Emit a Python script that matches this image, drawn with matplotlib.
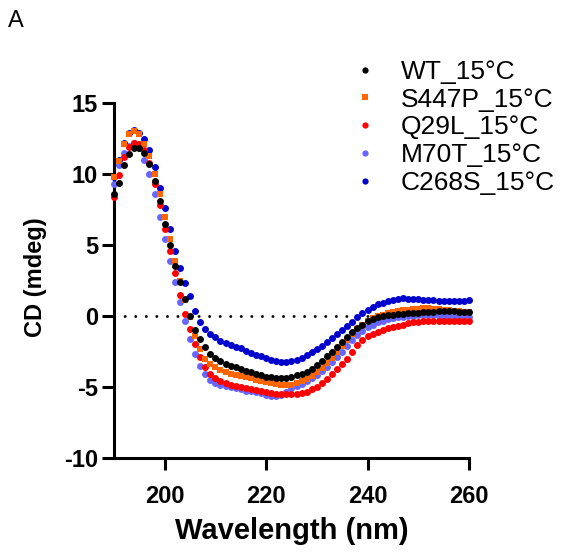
import matplotlib
matplotlib.use("Agg")
import matplotlib.pyplot as plt
import numpy as np

plt.rcParams['font.family'] = ['Liberation Sans', 'DejaVu Sans']

wavelength = list(range(190, 261))

wt = [8.6, 9.4, 10.6, 11.4, 11.8, 11.8, 11.45, 10.7, 9.5, 8.1,
      6.5, 5.0, 3.55, 2.4, 1.2, 0.0, -1.0, -1.6, -2.2, -2.65,
      -2.95, -3.15, -3.35, -3.5, -3.6, -3.72, -3.85, -3.95, -4.05, -4.18,
      -4.27, -4.32, -4.38, -4.4, -4.35, -4.28, -4.18, -4.08, -3.95, -3.7,
      -3.45, -3.15, -2.85, -2.55, -2.2, -1.85, -1.5, -1.15, -0.85, -0.6,
      -0.38, -0.2, -0.1, 0.0, 0.05, 0.1, 0.12, 0.15, 0.18, 0.2,
      0.22, 0.25, 0.28, 0.3, 0.32, 0.32, 0.33, 0.33, 0.3, 0.28, 0.25]

s447p = [9.8, 10.9, 12.1, 12.85, 13.0, 12.85, 12.1, 11.3, 10.0, 8.6,
         7.0, 5.4, 3.85, 2.5, 1.15, -0.1, -1.4, -2.3, -3.0, -3.37,
         -3.62, -3.82, -3.97, -4.05, -4.13, -4.22, -4.3, -4.4, -4.48, -4.56,
         -4.65, -4.72, -4.8, -4.86, -4.88, -4.83, -4.75, -4.6, -4.42, -4.2,
         -3.95, -3.65, -3.3, -2.95, -2.55, -2.1, -1.7, -1.3, -0.95, -0.62,
         -0.35, -0.15, 0.0, 0.1, 0.2, 0.28, 0.35, 0.4, 0.45, 0.5,
         0.52, 0.55, 0.55, 0.52, 0.5, 0.45, 0.4, 0.38, 0.35, 0.3, 0.28]

q29l = [8.4, 9.9, 11.2, 11.9, 12.2, 12.1, 11.7, 10.8, 9.3, 7.8,
        6.1, 4.55, 3.0, 1.5, 0.15, -0.9, -2.0, -2.9, -3.6, -4.1,
        -4.4, -4.6, -4.75, -4.85, -4.95, -5.0, -5.08, -5.15, -5.22, -5.3,
        -5.38, -5.45, -5.48, -5.52, -5.5, -5.48, -5.48, -5.43, -5.32, -5.15,
        -4.97, -4.75, -4.45, -4.1, -3.75, -3.38, -3.0, -2.5, -2.05, -1.7,
        -1.4, -1.25, -1.12, -1.0, -0.88, -0.78, -0.68, -0.6, -0.52, -0.45,
        -0.42, -0.38, -0.35, -0.33, -0.33, -0.33, -0.33, -0.33, -0.33, -0.33, -0.33]

m70t = [9.3, 10.6, 11.5, 12.0, 12.2, 11.8, 11.0, 10.0, 8.6, 7.0,
        5.4, 3.85, 2.4, 1.0, -0.35, -1.6, -2.7, -3.5, -4.07, -4.5,
        -4.75, -4.88, -4.96, -5.02, -5.06, -5.15, -5.25, -5.3, -5.36, -5.45,
        -5.55, -5.62, -5.65, -5.55, -5.35, -5.1, -4.95, -4.8, -4.6, -4.4,
        -4.15, -3.9, -3.6, -3.25, -2.9, -2.5, -2.1, -1.7, -1.35, -1.05,
        -0.8, -0.6, -0.45, -0.32, -0.22, -0.15, -0.1, -0.05, 0.0, 0.02,
        0.05, 0.05, 0.05, 0.05, 0.03, 0.0, -0.02, -0.05, -0.05, -0.08, -0.1]

c268s = [9.8, 11.0, 12.2, 12.9, 13.1, 12.9, 12.5, 11.7, 10.5, 9.0,
         7.6, 6.1, 4.6, 3.35, 2.3, 1.4, 0.35, -0.4, -0.9, -1.25,
         -1.5, -1.73, -1.92, -2.05, -2.18, -2.28, -2.45, -2.6, -2.72, -2.85,
         -2.98, -3.1, -3.2, -3.22, -3.25, -3.2, -3.1, -2.95, -2.75, -2.55,
         -2.33, -2.1, -1.85, -1.58, -1.3, -1.02, -0.72, -0.4, -0.1, 0.2,
         0.45, 0.65, 0.82, 0.95, 1.05, 1.12, 1.2, 1.25, 1.22, 1.2,
         1.18, 1.15, 1.13, 1.1, 1.08, 1.06, 1.04, 1.03, 1.05, 1.08, 1.1]

labels = ['WT_15°C', 'S447P_15°C', 'Q29L_15°C', 'M70T_15°C', 'C268S_15°C']
series = [wt, s447p, q29l, m70t, c268s]
colors = ['#000000', '#FF6600', '#FF0000', '#6666FF', '#0000CC']
markers = ['o', 's', 'o', 'o', 'o']
sizes = [5.0, 4.6, 5.0, 5.0, 5.0]

xticks = [200, 220, 240, 260]
yticks = [-10, -5, 0, 5, 10, 15]

fig = plt.figure(figsize=(5.62, 5.58), dpi=100)
ax = fig.add_axes([114/562, 1-458/558, (469-114)/562, (458-103)/558])

ax.axhline(0, color='black', lw=2.0, linestyle=(0, (0.1, 3.7)),
           dash_capstyle='round', zorder=1)

handles = []
n = len(series)
for i in range(n - 1, -1, -1):
    h, = ax.plot(wavelength, series[i], linestyle='none', marker=markers[i],
                 ms=sizes[i], mew=0, color=colors[i], clip_on=False,
                 zorder=2 + (n - i), label=labels[i])
    handles.append(h)
handles = handles[::-1]

ax.set_xlim(190, 260)
ax.set_ylim(-10, 15)
ax.set_xticks(xticks)
ax.set_yticks(yticks)
ax.set_yticklabels([str(t) for t in yticks])

for s in ['top', 'right']:
    ax.spines[s].set_visible(False)
for s in ['left', 'bottom']:
    ax.spines[s].set_linewidth(2.2)

ax.tick_params(axis='both', direction='out', length=8.5, width=2.2,
               labelsize=17)
ax.tick_params(axis='x', pad=11)
ax.tick_params(axis='y', pad=3)
for lab in ax.get_xticklabels() + ax.get_yticklabels():
    lab.set_fontweight('bold')

ax.set_xlabel('Wavelength (nm)', fontsize=21, fontweight='bold')
ax.set_ylabel('CD (mdeg)', fontsize=17, fontweight='bold')
ax.xaxis.set_label_coords(0.5, -0.165)
ax.yaxis.set_label_coords(-0.19, 0.51)

leg = fig.legend(handles, labels, loc='upper left',
                 bbox_to_anchor=(352/562, 1-60/558), frameon=False,
                 fontsize=19, handlelength=1.0, handletextpad=0.85,
                 labelspacing=0.14, borderpad=0, borderaxespad=0,
                 markerscale=0.9)

fig.text(8/562, 1-10/558, 'A', fontsize=17, va='top', ha='left')

fig.savefig('out.png', dpi=100)
